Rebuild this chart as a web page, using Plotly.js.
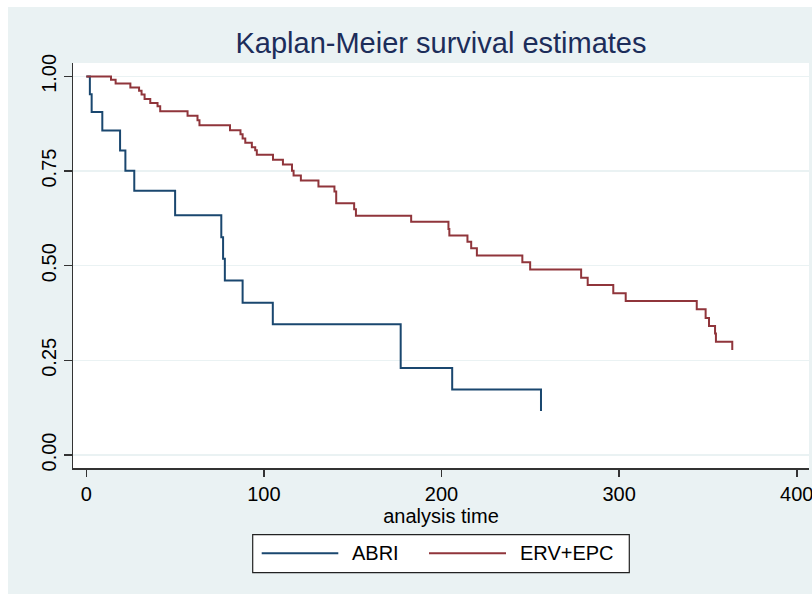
<!DOCTYPE html>
<html>
<head>
<meta charset="utf-8">
<script src="https://cdn.plot.ly/plotly-3.0.1.min.js"></script>
<style>html,body{margin:0;padding:0;background:#fff;}#chart{width:812px;height:594px;}</style>
</head>
<body>
<div id="chart"></div>
<script>
// ABRI group: event times and survival after each step
const abriTime = [0, 2, 3, 9, 19, 22, 27, 50, 76, 77, 78, 88, 105, 177, 206, 256];
const abriSurv = [1.000, 0.953, 0.906, 0.857, 0.804, 0.751, 0.698, 0.633, 0.575, 0.518, 0.461, 0.402, 0.345, 0.230, 0.173, 0.116];

// ERV+EPC group
const ervTime = [0, 13.9, 16.5, 24.8, 29.7, 31.1, 32.8, 36, 40.1, 41.6, 57, 62.6, 63.7, 80.9, 86.8, 88, 89.5, 93.2, 95.1, 96,
  105.1, 110.7, 115.8, 116.7, 120.8, 130.7, 139.7, 140.7, 150.8, 151.8, 182.9, 203.9, 204.4, 214.6, 216.7, 219.9,
  245.5, 249.9, 278.6, 282.3, 296.7, 303.7, 343.7, 348.7, 350.6, 354, 354.5, 363.7];
const ervSurv = [1.000, 0.991, 0.981, 0.971, 0.962, 0.952, 0.940, 0.930, 0.921, 0.908, 0.896, 0.884, 0.871, 0.858, 0.847, 0.836, 0.825, 0.813, 0.805, 0.793,
  0.780, 0.767, 0.751, 0.738, 0.725, 0.709, 0.696, 0.665, 0.649, 0.632, 0.616, 0.597, 0.580, 0.563, 0.546, 0.527,
  0.509, 0.490, 0.468, 0.449, 0.427, 0.407, 0.385, 0.362, 0.341, 0.321, 0.299, 0.277];

const groupNames = ['ABRI', 'ERV+EPC'];
const groupColors = ['#1a476f', '#90353b'];
const xTicks = [0, 100, 200, 300, 400];
const yTicks = [0, 0.25, 0.5, 0.75, 1];
const yTickText = ['0.00', '0.25', '0.50', '0.75', '1.00'];

const FONT = '"Liberation Sans", Arial, sans-serif';
const BG = '#eaf2f3';

const traces = [
  {x: abriTime, y: abriSurv, name: groupNames[0], type: 'scatter', mode: 'lines',
   line: {shape: 'hv', color: groupColors[0], width: 2}},
  {x: ervTime, y: ervSurv, name: groupNames[1], type: 'scatter', mode: 'lines',
   line: {shape: 'hv', color: groupColors[1], width: 2}}
];

const W = 812, H = 594, L = 73, R = 3, T = 63, B = 126;
const pw = W - L - R, ph = H - T - B;
const px2x = p => (p - L) / pw;
const py2y = p => (H - B - p) / ph;

// legend (Stata style, boxed below the plot)
const legY = 553.3;
const legItems = [
  {lx0: 261.7, lx1: 338.3, tx: 350},
  {lx0: 429, lx1: 506, tx: 517.5}
];
const shapes = [
  {type: 'rect', xref: 'paper', yref: 'paper', x0: px2x(-5), x1: px2x(W + 5), y0: py2y(-5), y1: py2y(7),
   fillcolor: '#ffffff', line: {width: 0}, layer: 'below'},
  {type: 'rect', xref: 'paper', yref: 'paper', x0: px2x(-5), x1: px2x(8), y0: py2y(H + 5), y1: py2y(-5),
   fillcolor: '#ffffff', line: {width: 0}, layer: 'below'},
  {type: 'rect', xref: 'paper', yref: 'paper', x0: px2x(252.7), x1: px2x(629.3), y0: py2y(572.7), y1: py2y(534.7),
   fillcolor: '#ffffff', line: {color: '#222', width: 1.2}, layer: 'above'}
];
const annotations = [];
legItems.forEach((it, i) => {
  shapes.push({type: 'line', xref: 'paper', yref: 'paper', x0: px2x(it.lx0), x1: px2x(it.lx1),
    y0: py2y(legY), y1: py2y(legY), line: {color: groupColors[i], width: 2}, layer: 'above'});
  annotations.push({xref: 'paper', yref: 'paper', x: px2x(it.tx), y: py2y(legY), xanchor: 'left', yanchor: 'middle',
    text: groupNames[i], showarrow: false, font: {family: FONT, size: 20, color: '#000'}});
});

const layout = {
  width: W, height: H,
  margin: {l: L, r: R, t: T, b: B, pad: 0},
  paper_bgcolor: BG,
  plot_bgcolor: '#ffffff',
  font: {family: FONT, size: 20, color: '#000'},
  showlegend: false,
  title: {text: 'Kaplan-Meier survival estimates', font: {family: FONT, size: 29, color: '#1c2d5a'},
          x: 0.5, xref: 'paper', xanchor: 'center', y: 1 - 43 / H, yref: 'container', yanchor: 'middle'},
  xaxis: {
    range: [-7.5, 406.9], tickmode: 'array', tickvals: xTicks, ticktext: xTicks.map(String),
    ticks: 'outside', ticklen: 7, tickwidth: 1.5, tickcolor: '#333', ticklabeloverflow: 'allow',
    showline: true, linecolor: '#333', linewidth: 1.5, zeroline: false, showgrid: false,
    tickfont: {family: FONT, size: 20, color: '#000'},
    title: {text: 'analysis time', font: {family: FONT, size: 20, color: '#000'}, standoff: 0},
    automargin: 'height', fixedrange: true
  },
  yaxis: {
    range: [-0.0344, 1.0354], tickmode: 'array', tickvals: yTicks, ticktext: yTickText,
    tickangle: -90, ticks: 'outside', ticklen: 8, tickwidth: 1.5, tickcolor: '#333',
    showline: true, linecolor: '#333', linewidth: 1.5, zeroline: false,
    showgrid: true, gridcolor: BG, gridwidth: 1.5,
    tickfont: {family: FONT, size: 20, color: '#000'},
    automargin: false, fixedrange: true
  },
  shapes: shapes,
  annotations: annotations
};

Plotly.newPlot('chart', traces, layout, {displayModeBar: false, staticPlot: true});
</script>
</body>
</html>
